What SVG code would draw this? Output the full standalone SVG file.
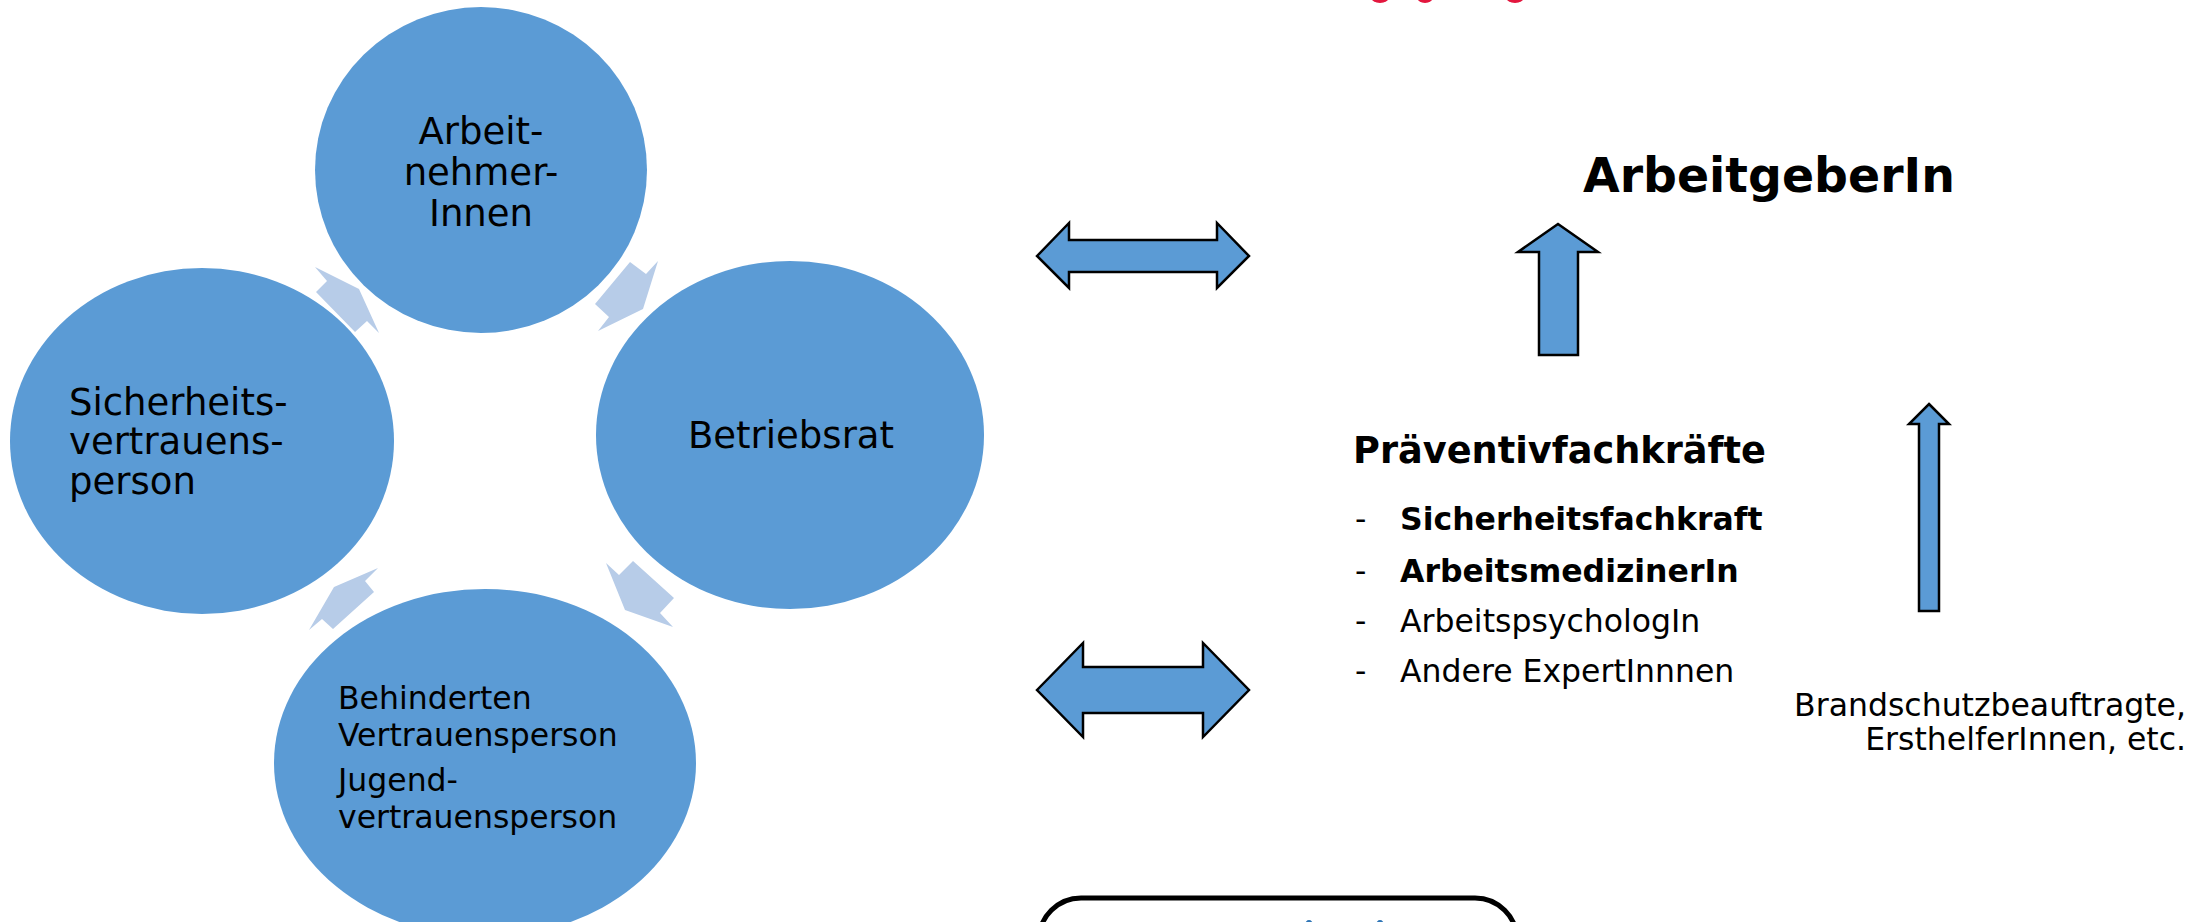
<svg xmlns="http://www.w3.org/2000/svg" width="2211" height="922" viewBox="0 0 2211 922">
<style>
.c{fill:#5B9BD5;}
.la{fill:#B7CCE8;}
.ba{fill:#5B9BD5;stroke:#000;stroke-width:2.5;stroke-linejoin:miter;}
.t{font-family:"DejaVu Sans","Liberation Sans",sans-serif;fill:#000;}
.b{font-weight:bold;}
.red{fill:#E3173E;}
</style>
<rect x="0" y="0" width="2211" height="922" fill="#fff"/>
<g id="top-red">
<ellipse class="red" cx="1380" cy="-3" rx="9" ry="6"/>
<ellipse class="red" cx="1425" cy="-3" rx="8" ry="6"/>
<ellipse class="red" cx="1515" cy="-3" rx="9" ry="6"/>
</g>
<g id="node-arbeitnehmer">
<ellipse class="c" cx="481" cy="170" rx="166" ry="163"/>
<text class="t" font-size="37" text-anchor="middle"><tspan x="481" y="144">Arbeit-</tspan><tspan x="481" y="185">nehmer-</tspan><tspan x="481" y="226">Innen</tspan></text>
</g>
<g id="node-betriebsrat">
<ellipse class="c" cx="790" cy="435" rx="194" ry="174"/>
<text class="t" font-size="37" x="791" y="448" text-anchor="middle">Betriebsrat</text>
</g>
<g id="node-sicherheit">
<ellipse class="c" cx="202" cy="441" rx="192" ry="173"/>
<text class="t" font-size="37"><tspan x="69" y="415">Sicherheits-</tspan><tspan x="69" y="454">vertrauens-</tspan><tspan x="69" y="494">person</tspan></text>
</g>
<g id="node-behinderten">
<ellipse class="c" cx="485" cy="763" rx="211" ry="174"/>
<text class="t" font-size="31.5"><tspan x="338" y="709">Behinderten</tspan><tspan x="338" y="746">Vertrauensperson</tspan><tspan x="338" y="791">Jugend-</tspan><tspan x="338" y="828">vertrauensperson</tspan></text>
</g>
<g id="connectors">
<polygon class="la" points="315,267 359,289 379,333 367,321 355,332 316,292 327,281"/>
<polygon class="la" points="630,262 646,274 658,261 643,309 598,331 609,317 595,304"/>
<polygon class="la" points="378,568 365,581 374,592 333,629 322,619 309,630 334,587"/>
<polygon class="la" points="606,563 619,575 633,561 674,598 660,613 673,627 625,610"/>
<polygon class="ba" points="1037,256 1069,223 1069,240 1217,240 1217,223 1249,256 1217,288 1217,272 1069,272 1069,288"/>
<polygon class="ba" points="1037,690 1083,643 1083,667 1203,667 1203,643 1249,690 1203,737 1203,713 1083,713 1083,737"/>
<polygon class="ba" points="1558,224 1598,252 1578,252 1578,355 1539,355 1539,252 1518,252"/>
<polygon class="ba" points="1929,404 1949,424 1939,424 1939,611 1919,611 1919,424 1909,424"/>
</g>
<g id="node-arbeitgeber">
<text class="t b" font-size="47.4" x="1583" y="192">ArbeitgeberIn</text>
</g>
<g id="node-praeventiv">
<text class="t b" font-size="36.7" x="1353" y="463">Präventivfachkräfte</text>
<text class="t" font-size="31.5"><tspan x="1355" y="530">-</tspan><tspan x="1355" y="582">-</tspan><tspan x="1355" y="632">-</tspan><tspan x="1355" y="682">-</tspan></text>
<text class="t b" font-size="31.5" x="1400" y="530">Sicherheitsfachkraft</text>
<text class="t b" font-size="31.5" x="1400" y="582">ArbeitsmedizinerIn</text>
<text class="t" font-size="31.5" x="1400" y="632">ArbeitspsychologIn</text>
<text class="t" font-size="31.5" x="1400" y="682">Andere ExpertInnnen</text>
</g>
<g id="node-brandschutz">
<text class="t" font-size="31.5" text-anchor="end"><tspan x="2186" y="716">Brandschutzbeauftragte,</tspan><tspan x="2186" y="750">ErsthelferInnen, etc.</tspan></text>
</g>
<g id="node-bottom-box">
<rect x="1039" y="898" width="478" height="100" rx="42" ry="42" fill="#fff" stroke="#000" stroke-width="5"/>
<ellipse cx="1309" cy="925" rx="4" ry="5" fill="#2E75B6"/>
<ellipse cx="1380" cy="925" rx="4" ry="5" fill="#2E75B6"/>
</g>
</svg>
